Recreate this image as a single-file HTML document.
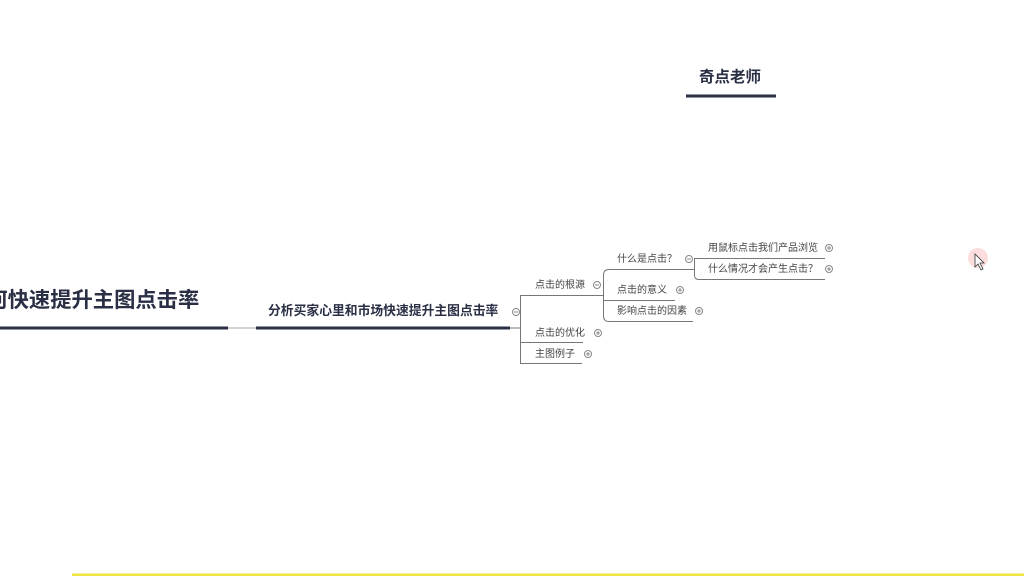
<!DOCTYPE html>
<html><head><meta charset="utf-8"><style>
html,body{margin:0;padding:0;width:1024px;height:576px;overflow:hidden;background:#fff;position:relative;font-family:"Liberation Sans","Noto Sans CJK SC",sans-serif;}
.t{position:absolute;white-space:nowrap;line-height:1;}
.s{font-size:10px;color:#444;}
</style></head><body>
<svg width="1024" height="576" style="position:absolute;left:0;top:0">
<g stroke="#2a2f45" stroke-width="3" fill="none">
<line x1="0" y1="328" x2="228" y2="328"/>
<line x1="256" y1="328" x2="510" y2="328"/>
<line x1="686" y1="96" x2="776" y2="96"/>
</g>
<line x1="228" y1="328" x2="256" y2="328" stroke="#aaa" stroke-width="1"/>
<line x1="510" y1="328" x2="520" y2="328" stroke="#777" stroke-width="1"/>
<g stroke="#777" stroke-width="1" fill="none">
<line x1="520.5" y1="296" x2="520.5" y2="363"/>
<line x1="520" y1="295.5" x2="603" y2="295.5"/>
<line x1="520" y1="342.5" x2="583" y2="342.5"/>
<line x1="520" y1="363.5" x2="582" y2="363.5"/>
<path d="M603.5 275 Q603.5 269.5 609 269.5 L694 269.5"/>
<line x1="603.5" y1="275" x2="603.5" y2="316"/>
<path d="M603.5 316 Q603.5 321.5 609 321.5 L693 321.5"/>
<line x1="603" y1="300.5" x2="675" y2="300.5"/>
<path d="M694.5 258.5 L825 258.5"/>
<path d="M694.5 258 L694.5 275 Q694.5 279.5 699 279.5 L825 279.5"/>
</g>
<g stroke="#888" stroke-width="1" fill="#fff">
<circle cx="516" cy="312" r="3.5"/><line x1="514" y1="312" x2="518" y2="312"/>
<circle cx="597" cy="285" r="3.5"/><line x1="595" y1="285" x2="599" y2="285"/>
<circle cx="689" cy="259" r="3.5"/><line x1="687" y1="259" x2="691" y2="259"/>
<circle cx="598" cy="333" r="3.5"/><line x1="596" y1="333" x2="600" y2="333"/><line x1="598" y1="331" x2="598" y2="335"/>
<circle cx="588" cy="354" r="3.5"/><line x1="586" y1="354" x2="590" y2="354"/><line x1="588" y1="352" x2="588" y2="356"/>
<circle cx="680" cy="290" r="3.5"/><line x1="678" y1="290" x2="682" y2="290"/><line x1="680" y1="288" x2="680" y2="292"/>
<circle cx="699" cy="311" r="3.5"/><line x1="697" y1="311" x2="701" y2="311"/><line x1="699" y1="309" x2="699" y2="313"/>
<circle cx="829" cy="248" r="3.5"/><line x1="827" y1="248" x2="831" y2="248"/><line x1="829" y1="246" x2="829" y2="250"/>
<circle cx="829" cy="269" r="3.5"/><line x1="827" y1="269" x2="831" y2="269"/><line x1="829" y1="267" x2="829" y2="271"/>
</g>
<line x1="72" y1="575" x2="1024" y2="575" stroke="#f0e442" stroke-width="3"/>
<circle cx="978" cy="258" r="10" fill="#fbd5d5" opacity="0.8"/>
<path d="M975 254 L975 267 L978 264 L981 270 L983 269 L980 263 L984 263 Z" fill="#fff" stroke="#333" stroke-width="0.8"/>
</svg>
<div class="t" style="left:-35px;top:290px;font-size:21.3px;font-weight:bold;color:#2a2f45">如何快速提升主图点击率</div>
<div class="t" style="left:268px;top:305px;font-size:12.8px;font-weight:bold;color:#2a2f45">分析买家心里和市场快速提升主图点击率</div>
<div class="t" style="left:699px;top:70px;font-size:15.5px;font-weight:bold;color:#2a2f45">奇点老师</div>
<div class="t s" style="left:535px;top:281px">点击的根源</div>
<div class="t s" style="left:535px;top:329px">点击的优化</div>
<div class="t s" style="left:535px;top:350px">主图例子</div>
<div class="t s" style="left:617px;top:255px">什么是点击？</div>
<div class="t s" style="left:617px;top:286px">点击的意义</div>
<div class="t s" style="left:617px;top:307px">影响点击的因素</div>
<div class="t s" style="left:708px;top:244px">用鼠标点击我们产品浏览</div>
<div class="t s" style="left:708px;top:265px">什么情况才会产生点击？</div>
</body></html>
